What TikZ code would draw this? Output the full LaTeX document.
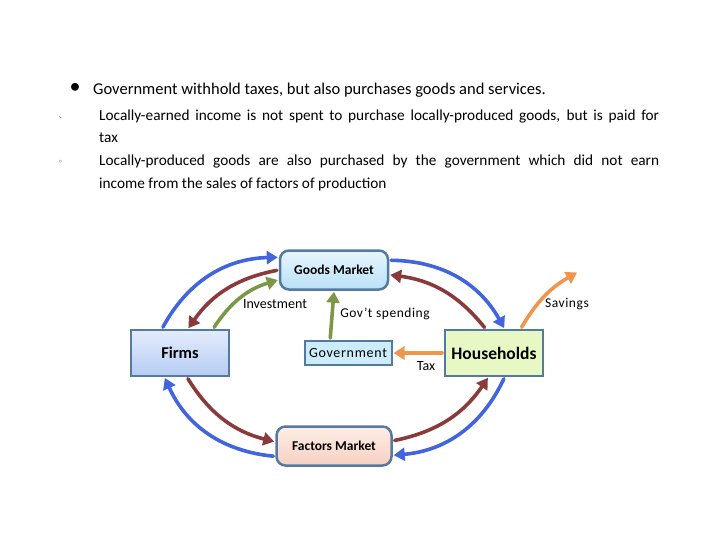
\documentclass[tikz,border=0pt]{standalone}
\usepackage{fontspec}
\setmainfont{Carlito}
\newfontfamily\cjk{Noto Sans CJK SC}
\usepackage{xcolor}
\usetikzlibrary{arrows.meta, positioning}
\definecolor{flowblue}{RGB}{66,100,222}
\definecolor{flowbrown}{RGB}{138,58,58}
\definecolor{flowgreen}{RGB}{122,152,72}
\definecolor{floworange}{RGB}{240,150,76}
\definecolor{boxedge}{RGB}{84,122,162}
\definecolor{goodstop}{RGB}{232,246,253}
\definecolor{goodsbot}{RGB}{186,224,246}
\definecolor{firmstop}{RGB}{228,236,252}
\definecolor{firmsbot}{RGB}{182,204,244}
\definecolor{factstop}{RGB}{253,238,230}
\definecolor{factsbot}{RGB}{246,208,194}
\definecolor{housefill}{RGB}{232,248,196}
\definecolor{govfill}{RGB}{205,236,250}
\tikzset{
  every node/.style = {font=\fontsize{12}{14}\selectfont},  % base size
  market/.style     = {rectangle, rounded corners=9pt, draw=boxedge,
                       line width=2.5pt, minimum width=108pt,
                       minimum height=39pt, inner sep=2pt,
                       font=\fontsize{13.5}{16}\selectfont\bfseries},
  agent/.style      = {rectangle, draw=boxedge, line width=2pt,
                       minimum width=98pt, minimum height=46pt},
  flowtext/.style   = {inner sep=1pt, font=\fontsize{14}{16}\selectfont},
  flow/.style       = {line width=3.6pt, line cap=round,
                       -{Triangle[length=11pt,width=13pt]},
                       shorten >=1pt, shorten <=2pt},
  blueflow/.style   = {flow, draw=flowblue},
  brownflow/.style  = {flow, draw=flowbrown},
  greenflow/.style  = {flow, draw=flowgreen},
  orangeflow/.style = {flow, draw=floworange}
}

\begin{document}
\begin{tikzpicture}[x=1pt, y=-1pt]
  \useasboundingbox (0,0) rectangle (720,540);
  % bullet text
  \node[font=\fontsize{22}{22}\selectfont] (dot) at (75,88) {\textbullet};
  \node[anchor=base west, inner sep=0pt, font=\fontsize{16.5}{19}\selectfont]
    (head) at (93,95) {Government withhold taxes, but also purchases goods and services.};
  \node[inner sep=0pt, text=gray, font=\cjk\fontsize{9}{9}\selectfont] (mark1) at (63,118) {、};
  \node[inner sep=0pt, text=gray, font=\cjk\fontsize{9}{9}\selectfont] (mark2) at (63,162) {。};
  \node[anchor=base west, inner sep=0pt, text width=560pt, align=justify,
        font=\fontsize{15.3}{21.5}\selectfont] (line1) at (99,121)
    {Locally-earned income is not spent to purchase locally-produced goods, but is paid for\linebreak tax};
  \node[anchor=base west, inner sep=0pt, text width=560pt, align=justify,
        font=\fontsize{15.3}{23}\selectfont] (line2) at (99,166)
    {Locally-produced goods are also purchased by the government which did not earn\linebreak income from the sales of factors of production};

  % boxes
  \node[market, top color=goodstop, bottom color=goodsbot] (goods) at (334,270) {Goods Market};
  \node[market, minimum width=115pt, top color=factstop, bottom color=factsbot] (factors) at (334,446) {Factors Market};
  \node[agent, top color=firmstop, bottom color=firmsbot,
        font=\fontsize{16.5}{19}\selectfont\bfseries] (firms) at (180,353) {Firms};
  \node[agent, fill=housefill, font=\fontsize{17.5}{20}\selectfont\bfseries]
    (house) at (494,353) {Households};
  \node[rectangle, draw=boxedge, line width=2pt, fill=govfill, minimum width=87pt,
        minimum height=24pt, inner sep=1pt,
        font=\fontsize{14}{16}\selectfont\addfontfeature{LetterSpace=5}] (gov) at (348,353) {Government};

  % flows on top
  \draw[blueflow] (firms.127) to[bend left=30] (goods.167);
  \draw[brownflow] (goods.180) to[bend right=22] (firms.72);
  \draw[greenflow] (firms.36) to[bend left=20] (goods.190);
  \draw[greenflow] (gov.144) -- (goods.south);
  \draw[blueflow] (goods.10) to[bend left=30] (house.66);
  \draw[brownflow] (house.109) to[bend right=22] (goods.355);
  \coordinate (saveend) at (578,272);
  \draw[orangeflow] (house.42) to[bend left=15] (saveend);
  \draw[orangeflow] (house.west) -- (gov.east);
  % flows at bottom
  \draw[brownflow] (firms.286) to[bend right=22] (factors.176);
  \draw[blueflow] (factors.190) to[bend left=30] (firms.237);
  \draw[brownflow] (factors.5) to[bend right=22] (house.257);
  \draw[blueflow] (house.294) to[bend left=30] (factors.351);

  % flow labels
  \node[flowtext] (invest) at (275,304) {Investment};
  \node[flowtext, font=\fontsize{13.5}{16}\selectfont\addfontfeature{LetterSpace=4}]
    (spend) at (385,314) {Gov’t spending};
  \node[flowtext, font=\fontsize{13.5}{16}\selectfont\addfontfeature{LetterSpace=4}]
    (save) at (567,304) {Savings};
  \node[flowtext] (tax) at (426,366) {Tax};
\end{tikzpicture}
\end{document}
